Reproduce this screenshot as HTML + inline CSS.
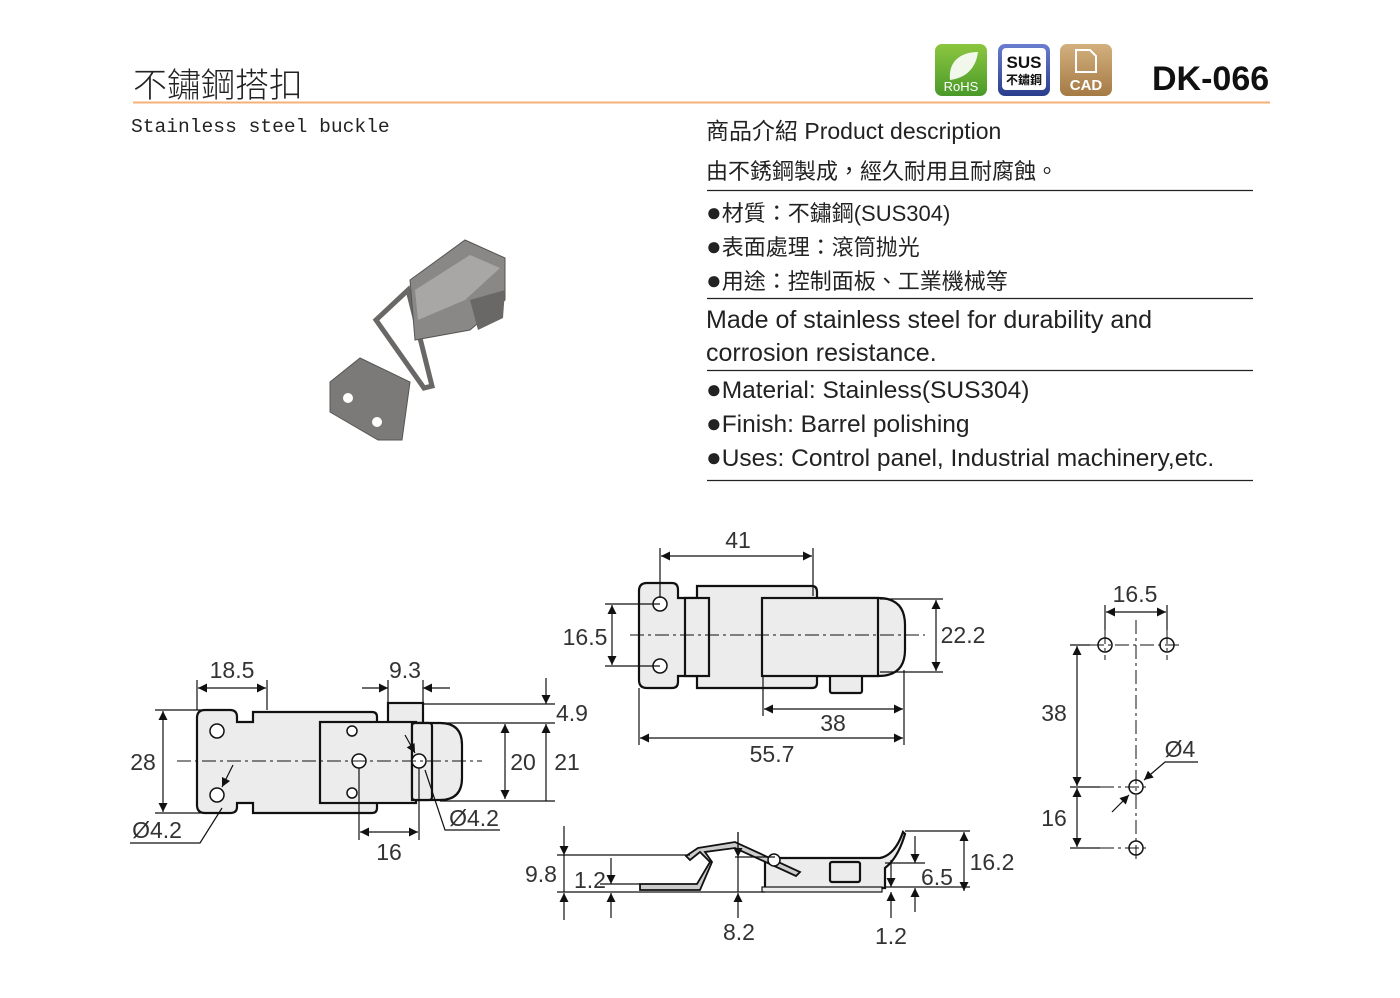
<!DOCTYPE html>
<html><head><meta charset="utf-8">
<style>
html,body{margin:0;padding:0;background:#fff;}
body{width:1400px;height:998px;overflow:hidden;position:relative;font-family:"Liberation Sans","Noto Sans CJK TC",sans-serif;}
.t{position:absolute;white-space:nowrap;color:#222;}
.b{font-size:26px;}
</style></head><body>
<div class="t" style="left:133px;top:58px;font-size:34px;font-family:'Noto Sans CJK TC',sans-serif;font-weight:300;">不鏽鋼搭扣</div>
<div class="t" style="left:131px;top:116px;font-size:19.6px;font-family:'Liberation Mono',monospace;">Stainless steel buckle</div>
<div class="t" style="left:1152px;top:60px;font-size:34px;font-weight:bold;color:#111;">DK-066</div>
<div class="t" style="left:706px;top:112px;font-size:23px;font-family:'Liberation Sans','Noto Sans CJK TC',sans-serif;">商品介紹 Product description</div>
<div class="t" style="left:706px;top:154px;font-size:22px;font-family:'Noto Sans CJK TC',sans-serif;">由不銹鋼製成，經久耐用且耐腐蝕。</div>
<div class="t" style="left:706px;top:196px;font-size:22px;line-height:33px;font-family:'Liberation Sans','Noto Sans CJK TC',sans-serif;"><span class="b">●</span>材質：不鏽鋼(SUS304)<br><span class="b">●</span>表面處理：滾筒抛光<br><span class="b">●</span>用途：控制面板、工業機械等</div>
<div class="t" style="left:706px;top:304px;font-size:25px;line-height:33px;">Made of stainless steel for durability and<br>corrosion resistance.</div>
<div class="t" style="left:706px;top:373px;font-size:24.5px;line-height:33px;"><span class="b">●</span>Material: Stainless(SUS304)<br><span class="b">●</span>Finish: Barrel polishing<br><span class="b">●</span>Uses: Control panel, Industrial machinery,etc.</div>

<svg width="1400" height="998" style="position:absolute;left:0;top:0" xmlns="http://www.w3.org/2000/svg">
<defs>
<marker id="a" viewBox="0 0 10 10" refX="10" refY="5" markerWidth="17" markerHeight="9" orient="auto-start-reverse" markerUnits="userSpaceOnUse"><path d="M0,0L10,5L0,10z" fill="#111"/></marker>
<linearGradient id="g1" x1="0" y1="0" x2="0" y2="1"><stop offset="0" stop-color="#8cc63f"/><stop offset="1" stop-color="#4a9a2a"/></linearGradient>
<linearGradient id="g2" x1="0" y1="0" x2="0" y2="1"><stop offset="0" stop-color="#6a7ed0"/><stop offset="1" stop-color="#2a3c8c"/></linearGradient>
<linearGradient id="g3" x1="0" y1="0" x2="0" y2="1"><stop offset="0" stop-color="#d2b07e"/><stop offset="1" stop-color="#a57a45"/></linearGradient>
</defs>
<line x1="133" y1="102.5" x2="1270" y2="102.5" stroke="#f4b27a" stroke-width="2"/>
<rect x="935" y="44" width="52" height="52" rx="7" fill="url(#g1)"/>
<path d="M950,80 C948,62 960,52 978,52 C976,68 966,78 950,80z" fill="#fff" opacity=".9"/>
<text x="961" y="91" font-size="13" fill="#fff" text-anchor="middle" font-family="Liberation Sans">RoHS</text>
<rect x="998" y="44" width="52" height="52" rx="7" fill="url(#g2)"/>
<rect x="1002" y="48" width="44" height="42" rx="4" fill="#fff"/>
<text x="1024" y="68" font-size="17" font-weight="bold" fill="#111" text-anchor="middle" font-family="Liberation Sans">SUS</text>
<text x="1024" y="84" font-size="12" fill="#111" text-anchor="middle" font-family="Noto Sans CJK TC,sans-serif" font-weight="bold">不鏽鋼</text>
<rect x="1060" y="44" width="52" height="52" rx="7" fill="url(#g3)"/>
<path d="M1076,50h14l6,6v16h-20z" fill="none" stroke="#fff" stroke-width="2"/>
<text x="1086" y="90" font-size="15" font-weight="bold" fill="#fff" text-anchor="middle" font-family="Liberation Sans">CAD</text>
<g stroke="#222" stroke-width="1.3">
<line x1="707" y1="190.5" x2="1253" y2="190.5"/><line x1="707" y1="298.5" x2="1253" y2="298.5"/>
<line x1="707" y1="370.5" x2="1253" y2="370.5"/><line x1="707" y1="480.5" x2="1253" y2="480.5"/>
</g>
<g>
<path d="M330,382 L360,358 L410,382 L402,440 L378,440 L330,412z" fill="#7c7a78" stroke="#555"/>
<circle cx="348" cy="398" r="5" fill="#fff"/><circle cx="377" cy="422" r="5" fill="#fff"/>
<path d="M376,320 L408,290 L432,386 L424,388z" fill="none" stroke="#6a6866" stroke-width="5"/>
<path d="M410,280 L465,240 L505,258 L505,300 L470,330 L415,340z" fill="#8a8886" stroke="#555"/>
<path d="M415,290 L470,255 L500,268 L465,300 L418,320z" fill="#a9a7a5"/>
<path d="M470,300 L505,290 L503,318 L478,330z" fill="#6a6866"/>
</g>
<g fill="#ececec" stroke="#111" stroke-width="2.2">
<path d="M205,710 H230 Q237,710 237,717 V722 H253 V712 H372 Q377,712 377,717 V808 Q377,813 372,813 H253 V803 H237 V807 Q237,813 230,813 H205 Q197,813 197,805 V718 Q197,710 205,710z"/>
<rect x="388" y="703" width="35" height="20"/>
<rect x="320" y="722" width="96" height="81"/>
<path d="M412,723 H440 Q462,723 462,745 V778 Q462,800 440,800 H412z"/>
<rect x="412" y="723" width="20" height="77" rx="3"/>
<path d="M647,583 H672 Q678,583 678,590 V598 H697 V586 H812 Q817,586 817,592 V598 H878 Q905,598 905,625 V650 Q905,676 878,676 H817 V683 Q817,688 812,688 H697 V676 H678 V682 Q678,688 672,688 H647 Q639,688 639,680 V591 Q639,583 647,583z"/>
<rect x="830" y="675" width="32" height="18" rx="2"/>
<rect x="762" y="598" width="116" height="78"/>
<rect x="685" y="598" width="24" height="78"/>
<path d="M765,858 H880 Q895,855 903,832 L905,834 Q898,858 885,868 V888 H765z"/>
<path d="M640,884 H697 L710,862 L700,852 L690,860 L686,856 L698,848 L735,842 L800,872 L796,876 L735,848 L705,852 L712,862 L700,890 H640z" fill="#ccc" stroke-width="1.8"/>
<rect x="830" y="862" width="30" height="20" rx="2"/>
<rect x="762" y="887" width="120" height="5" stroke-width="1.2"/>
</g>
<g fill="#fff" stroke="#111" stroke-width="1.5">
<circle cx="217" cy="731" r="7"/><circle cx="217" cy="795" r="7"/>
<circle cx="359" cy="761" r="7"/><circle cx="419" cy="761" r="7"/>
<circle cx="352" cy="731" r="5"/><circle cx="352" cy="793" r="5"/>
<circle cx="660" cy="604" r="7"/><circle cx="660" cy="666" r="7"/>
<circle cx="774" cy="860" r="6"/>
<circle cx="1105" cy="645" r="7"/><circle cx="1167" cy="645" r="7"/>
<circle cx="1136" cy="787" r="7"/><circle cx="1136" cy="848" r="7"/>
</g>
<g stroke="#111" stroke-width="1" stroke-dasharray="14,4,3,4" fill="none">
<line x1="177" y1="761" x2="482" y2="761"/>
<line x1="630" y1="635" x2="925" y2="635"/>
<line x1="1136" y1="620" x2="1136" y2="862"/>
<line x1="1090" y1="645" x2="1180" y2="645"/><line x1="1100" y1="787" x2="1150" y2="787"/><line x1="1100" y1="848" x2="1150" y2="848"/>
<line x1="1105" y1="630" x2="1105" y2="660"/><line x1="1167" y1="630" x2="1167" y2="660"/>
</g>
<g stroke="#111" stroke-width="1.2" fill="none">
<line x1="197" y1="680" x2="197" y2="710"/><line x1="267" y1="680" x2="267" y2="710"/>
<line x1="198" y1="688" x2="266" y2="688" marker-start="url(#a)" marker-end="url(#a)"/>
<line x1="388" y1="680" x2="388" y2="703"/><line x1="423" y1="680" x2="423" y2="703"/>
<line x1="362" y1="688" x2="388" y2="688" marker-end="url(#a)"/><line x1="450" y1="688" x2="423" y2="688" marker-end="url(#a)"/>
<line x1="155" y1="710" x2="205" y2="710"/><line x1="155" y1="813" x2="205" y2="813"/>
<line x1="163" y1="711" x2="163" y2="812" marker-start="url(#a)" marker-end="url(#a)"/>
<line x1="423" y1="704" x2="555" y2="704"/><line x1="440" y1="723" x2="555" y2="723"/><line x1="440" y1="801" x2="555" y2="801"/>
<line x1="546" y1="678" x2="546" y2="704" marker-end="url(#a)"/><line x1="546" y1="801" x2="546" y2="724" marker-end="url(#a)"/>
<line x1="505" y1="724" x2="505" y2="799" marker-start="url(#a)" marker-end="url(#a)"/>
<line x1="359" y1="768" x2="359" y2="840"/><line x1="419" y1="768" x2="419" y2="840"/>
<line x1="360" y1="832" x2="418" y2="832" marker-start="url(#a)" marker-end="url(#a)"/>
<polyline points="130,843 200,843 222,808"/><line x1="233" y1="765" x2="222" y2="787" marker-end="url(#a)"/>
<polyline points="500,830 445,830 425,770"/><line x1="405" y1="735" x2="415" y2="753" marker-end="url(#a)"/>
<line x1="660" y1="548" x2="660" y2="598"/><line x1="813" y1="548" x2="813" y2="596"/>
<line x1="661" y1="556" x2="812" y2="556" marker-start="url(#a)" marker-end="url(#a)"/>
<line x1="605" y1="604" x2="660" y2="604"/><line x1="605" y1="666" x2="660" y2="666"/>
<line x1="612" y1="605" x2="612" y2="665" marker-start="url(#a)" marker-end="url(#a)"/>
<line x1="880" y1="599" x2="943" y2="599"/><line x1="880" y1="672" x2="943" y2="672"/>
<line x1="936" y1="600" x2="936" y2="671" marker-start="url(#a)" marker-end="url(#a)"/>
<line x1="763" y1="676" x2="763" y2="716"/><line x1="904" y1="670" x2="904" y2="745"/><line x1="639" y1="688" x2="639" y2="745"/>
<line x1="764" y1="709" x2="903" y2="709" marker-start="url(#a)" marker-end="url(#a)"/>
<line x1="640" y1="738" x2="903" y2="738" marker-start="url(#a)" marker-end="url(#a)"/>
<line x1="557" y1="855" x2="690" y2="855"/><line x1="557" y1="892" x2="765" y2="892"/><line x1="600" y1="884" x2="640" y2="884"/>
<line x1="564" y1="826" x2="564" y2="855" marker-end="url(#a)"/><line x1="564" y1="920" x2="564" y2="893" marker-end="url(#a)"/><line x1="564" y1="855" x2="564" y2="892"/>
<line x1="611" y1="858" x2="611" y2="884" marker-end="url(#a)"/><line x1="611" y1="918" x2="611" y2="893" marker-end="url(#a)"/>
<line x1="738" y1="832" x2="738" y2="892"/>
<line x1="738" y1="832" x2="738" y2="857" marker-end="url(#a)"/><line x1="738" y1="918" x2="738" y2="893" marker-end="url(#a)"/>
<line x1="735" y1="857" x2="775" y2="857"/>
<line x1="885" y1="863" x2="925" y2="863"/><line x1="885" y1="887" x2="970" y2="887"/><line x1="905" y1="831" x2="970" y2="831"/>
<line x1="891" y1="860" x2="891" y2="887" marker-end="url(#a)"/><line x1="891" y1="918" x2="891" y2="892" marker-end="url(#a)"/>
<line x1="915" y1="836" x2="915" y2="863" marker-end="url(#a)"/><line x1="915" y1="912" x2="915" y2="888" marker-end="url(#a)"/>
<line x1="964" y1="832" x2="964" y2="891" marker-start="url(#a)" marker-end="url(#a)"/>
<line x1="1105" y1="605" x2="1105" y2="630"/><line x1="1167" y1="605" x2="1167" y2="630"/>
<line x1="1106" y1="612" x2="1166" y2="612" marker-start="url(#a)" marker-end="url(#a)"/>
<line x1="1070" y1="645" x2="1090" y2="645"/><line x1="1070" y1="787" x2="1100" y2="787"/><line x1="1070" y1="848" x2="1100" y2="848"/>
<line x1="1077" y1="646" x2="1077" y2="786" marker-start="url(#a)" marker-end="url(#a)"/>
<line x1="1077" y1="788" x2="1077" y2="847" marker-start="url(#a)" marker-end="url(#a)"/>
<polyline points="1198,762 1165,762 1144,780" marker-end="url(#a)"/>
<line x1="1112" y1="812" x2="1129" y2="795" marker-end="url(#a)"/>
</g>
<g font-family="Liberation Sans" font-size="23" fill="#333" text-anchor="middle">
<text x="232" y="678">18.5</text><text x="405" y="678">9.3</text><text x="143" y="770">28</text>
<text x="572" y="721">4.9</text><text x="523" y="770">20</text><text x="567" y="770">21</text>
<text x="389" y="860">16</text><text x="157" y="838">Ø4.2</text><text x="474" y="826">Ø4.2</text>
<text x="738" y="548">41</text><text x="585" y="645">16.5</text><text x="963" y="643">22.2</text>
<text x="833" y="731">38</text><text x="772" y="762">55.7</text>
<text x="541" y="882">9.8</text><text x="590" y="888">1.2</text><text x="739" y="940">8.2</text>
<text x="891" y="944">1.2</text><text x="937" y="885">6.5</text><text x="992" y="870">16.2</text>
<text x="1135" y="602">16.5</text><text x="1054" y="721">38</text><text x="1054" y="826">16</text><text x="1180" y="757">Ø4</text>
</g>
</svg>
</body></html>
